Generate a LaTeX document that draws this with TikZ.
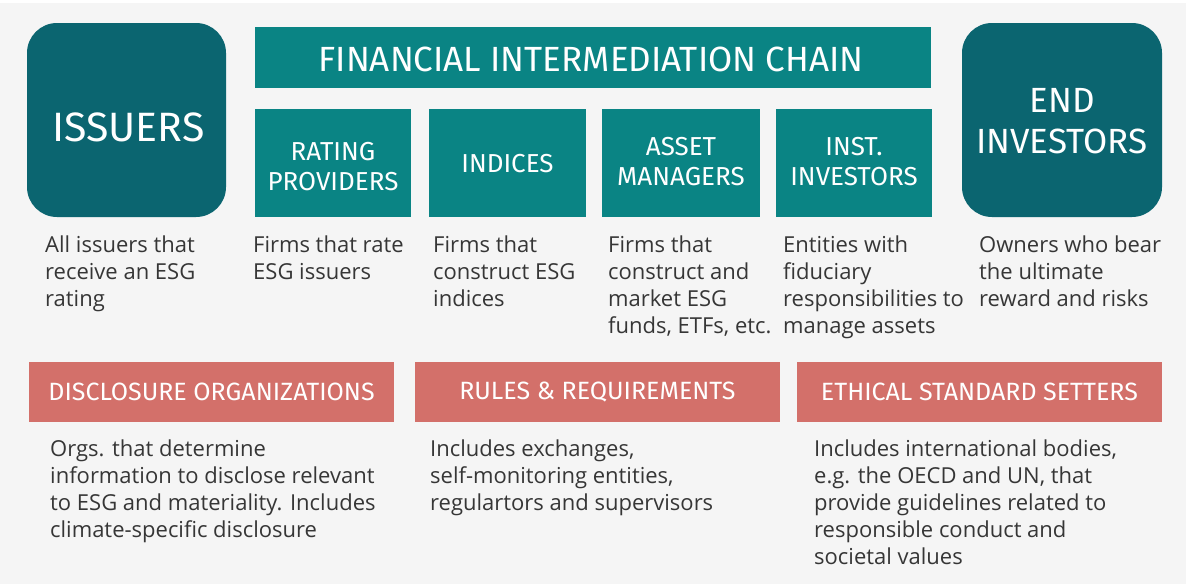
\documentclass[tikz,border=0pt]{standalone}
\usepackage{fontspec}
\setmainfont{Open Sans}
\newfontfamily\titlefont{Fira Sans}
\definecolor{bg}{HTML}{F5F5F5}
\definecolor{darkteal}{HTML}{0B6570}
\definecolor{teal}{HTML}{0A8484}
\definecolor{salmon}{HTML}{D3706A}
\definecolor{txt}{HTML}{363636}
\tikzset{
  bigbox/.style={fill=darkteal, rounded corners=30pt, inner sep=0pt},
  chainbox/.style={fill=teal, inner sep=0pt},
  boxtext/.style={inner sep=0pt, text=white, align=center, font=\titlefont\fontsize{26}{30}\selectfont},
  redbox/.style={fill=salmon, inner sep=0pt, text=white, align=center, font=\titlefont\fontsize{25}{28}\selectfont, minimum width=365pt, minimum height=60pt},
  desc/.style={anchor=north west, inner sep=0pt, align=left, text=txt, font=\fontsize{22}{27}\selectfont},
}
\begin{document}
\begin{tikzpicture}[x=1pt,y=-1pt]
\useasboundingbox (0,0) rectangle (1186,584);
\fill[bg] (0,0) rectangle (1186,584);
\fill[white] (0,0) rectangle (1186,3);
% top row
\node[bigbox, minimum width=199pt, minimum height=194pt] (iss) at (126.5,120) {};
\node[boxtext, font=\titlefont\fontsize{41}{46}\selectfont] (tiss) at (128.5,127) {ISSUERS};
\node[bigbox, minimum width=200pt, minimum height=194pt] (end) at (1062,120) {};
\node[boxtext, font=\titlefont\fontsize{35}{41}\selectfont] (tend) at (1062,121) {END\\INVESTORS};
\node[chainbox, minimum width=676pt, minimum height=61pt] (chain) at (593,57.5) {};
\node[boxtext, font=\titlefont\fontsize{35}{38}\selectfont] (tchain) at (591,59) {FINANCIAL INTERMEDIATION CHAIN};
\node[chainbox, minimum width=156pt, minimum height=108pt] (rat) at (333,163) {};
\node[boxtext] (trat) at (333,167) {RATING\\PROVIDERS};
\node[chainbox, minimum width=157pt, minimum height=108pt] (ind) at (507.5,163) {};
\node[boxtext] (tind) at (507.5,164) {INDICES};
\node[chainbox, minimum width=158pt, minimum height=108pt] (ass) at (681,163) {};
\node[boxtext] (tass) at (681,162) {ASSET\\MANAGERS};
\node[chainbox, minimum width=156pt, minimum height=108pt] (ins) at (854,163) {};
\node[boxtext] (tins) at (854,162) {INST.\\INVESTORS};
% descriptions
\node[desc] (diss) at (45,236) {All issuers that\\receive an ESG\\rating};
\node[desc] (drat) at (253,236) {Firms that rate\\ESG issuers};
\node[desc] (dind) at (433,236) {Firms that\\construct ESG\\indices};
\node[desc] (dass) at (608,236) {Firms that\\construct and\\market ESG\\funds, ETFs, etc.};
\node[desc] (dins) at (783,236) {Entities with\\fiduciary\\responsibilities to\\manage assets};
\node[desc] (dend) at (979,236) {Owners who bear\\the ultimate\\reward and risks};
% bottom row
\node[redbox] (dis) at (211.5,392) {DISCLOSURE ORGANIZATIONS};
\node[redbox] (rul) at (597.5,392) {RULES \& REQUIREMENTS};
\node[redbox] (eth) at (979.5,392) {ETHICAL STANDARD SETTERS};
\node[desc] (ddis) at (50,440) {Orgs. that determine\\information to disclose relevant\\to ESG and materiality. Includes\\climate-specific disclosure};
\node[desc] (drul) at (430,440) {Includes exchanges,\\self-monitoring entities,\\regulartors and supervisors};
\node[desc] (deth) at (814,440) {Includes international bodies,\\e.g. the OECD and UN, that\\provide guidelines related to\\responsible conduct and\\societal values};
\end{tikzpicture}
\end{document}
